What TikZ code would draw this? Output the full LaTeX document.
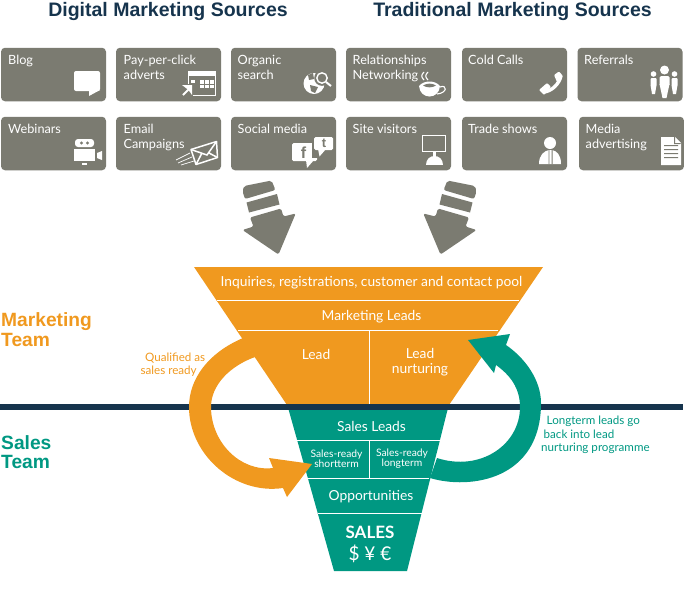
\documentclass[tikz,border=0pt]{standalone}
\usepackage{fontspec}
\setmainfont{Lato}
\newfontfamily\headfont{Liberation Sans}
\usepackage{tikz}
\usetikzlibrary{positioning}
\definecolor{srcgray}{HTML}{7B7B71}
\definecolor{funorange}{HTML}{F0991F}
\definecolor{funteal}{HTML}{009882}
\definecolor{navy}{HTML}{16344D}
\begin{document}
\begin{tikzpicture}[x=1pt,y=-1pt]
\tikzstyle{source}=[rectangle, rounded corners=4pt, fill=srcgray, minimum width=105pt, minimum height=53.5pt, inner sep=0pt]
\tikzstyle{srctext}=[anchor=north west, text=white, font=\fontsize{12.7}{14.5}\selectfont, align=left, inner sep=0pt]
\tikzstyle{head}=[font=\headfont\bfseries\fontsize{19.5}{22}\selectfont, text=navy, inner sep=0pt]
\tikzstyle{team}=[anchor=north west, font=\headfont\bfseries\fontsize{19.2}{19.6}\selectfont, align=left, inner sep=0pt]
\tikzstyle{funtext}=[text=white, align=center, inner sep=0pt, font=\fontsize{13.8}{15.5}\selectfont]
\tikzstyle{smalltext}=[text=white, align=center, inner sep=0pt, font=\fontsize{10.3}{9.8}\selectfont]
\tikzstyle{note}=[align=left, inner sep=0pt, font=\fontsize{11.6}{13.4}\selectfont]
\tikzstyle{divide}=[draw=white, line width=1pt]
\tikzstyle{icon}=[fill=white, draw=none]
\useasboundingbox (0,0) rectangle (684,611);
% headings
\node[head] (Digital) at (168,11) {Digital Marketing Sources};
\node[head] (Traditional) at (512.5,11) {Traditional Marketing Sources};
% source boxes
\node[source] (Blog) at (53.5,74.5) {};
\node[source] (Click) at (168.5,74.5) {};
\node[source] (Organic) at (283.5,74.5) {};
\node[source] (Relations) at (398.5,74.5) {};
\node[source] (Cold) at (514.5,74.5) {};
\node[source] (Referrals) at (630,74.5) {};
\node[source] (Webinars) at (53.5,143.5) {};
\node[source] (Email) at (168.5,143.5) {};
\node[source] (Social) at (283.5,143.5) {};
\node[source] (Site) at (398.5,143.5) {};
\node[source] (Trade) at (514.5,143.5) {};
\node[source] (Media) at (631.5,143.5) {};
\node[srctext] at (8,55.3) {Blog};
\node[srctext] at (123.5,55.3) {Pay-per-click\\adverts};
\node[srctext] at (237.5,55.3) {Organic\\search};
\node[srctext] at (352.5,55.3) {Relationships\\Networking};
\node[srctext] at (468,55.3) {Cold Calls};
\node[srctext] at (584,55.3) {Referrals};
\node[srctext] at (8,124.3) {Webinars};
\node[srctext] at (123.5,124.3) {Email\\Campaigns};
\node[srctext] at (237.5,124.3) {Social media};
\node[srctext] at (352.5,124.3) {Site visitors};
\node[srctext] at (468,124.3) {Trade shows};
\node[srctext] at (585.5,124.3) {Media\\advertising};
% icons, top row
\fill[icon,rounded corners=2pt] (74,71) rectangle (100,91);
\fill[icon] (89,90) -- (100,90) -- (89,96) -- cycle;
\draw[white,line width=.9pt] (188.5,71.5) rectangle (215.5,95);
\fill[icon] (188,71) rectangle (216,76);
\fill[icon] (191,79.5) rectangle (195,82.5);
\fill[icon] (200,80) rectangle (213.5,88);
\draw[srcgray,line width=.6pt] (204.5,80) -- (204.5,88) (209,80) -- (209,88) (200,84) -- (213.5,84);
\fill[srcgray] (180,84) rectangle (193,97);
\draw[white,line width=2pt] (183,95) -- (190,88);
\fill[icon] (182,85) -- (192,85) -- (192,95) -- (188.5,90) -- cycle;
\fill[icon] (314,83.5) circle (10.5pt);
\fill[srcgray] (310,85) -- (318,87) -- (315,93) -- (311,91) -- cycle;
\fill[srcgray] (308,75) -- (313,73) -- (314,79) -- (309,80) -- cycle;
\fill[srcgray] (322,78) circle (7.8pt);
\draw[white,line width=1.4pt] (322,78) circle (5.2pt);
\draw[white,line width=2pt] (326,82) -- (331,86);
\draw[white,line width=1.1pt] (424,72) .. controls (421,75) and (421,77) .. (424,80);
\draw[white,line width=1.1pt] (428,72) .. controls (425,75) and (425,77) .. (428,80);
\fill[icon] (419,86) .. controls (420,100) and (439,100) .. (440,86) -- cycle;
\fill[icon] (419,86) .. controls (424,80) and (435,80) .. (440,86) -- cycle;
\fill[srcgray] (423,85.5) .. controls (427,83) and (432,83) .. (436,85.5) .. controls (432,88) and (427,88) .. (423,85.5) -- cycle;
\draw[white,line width=1.1pt] (440,87) .. controls (447,84) and (448,93) .. (437,94);
\draw[white,line width=3.4pt] (544,92) .. controls (552,91) and (559,84) .. (561,76);
\fill[icon,rounded corners=1pt] (539,90) -- (547,83) -- (551,87) -- (544,95) -- cycle;
\fill[icon,rounded corners=1pt] (554,75) -- (559,71.5) -- (563,76) -- (557,82) -- cycle;
\fill[icon] (664.5,70) circle (4.5pt) (653.5,74) circle (2.8pt) (674.5,74) circle (2.8pt);
\fill[icon,rounded corners=1.5pt] (659.5,76) rectangle (669.5,86);
\fill[icon] (659.5,84) -- (669.5,84) -- (666.5,98) -- (662.5,98) -- cycle;
\fill[icon,rounded corners=1pt] (650.5,78) rectangle (656.5,86) (671.5,78) rectangle (677.5,86);
\fill[icon] (650.5,85) -- (656.5,85) -- (655,94) -- (652,94) -- cycle (671.5,85) -- (677.5,85) -- (676,94) -- (673,94) -- cycle;
% icons, bottom row
\fill[icon,rounded corners=3pt] (75,139) rectangle (94,147);
\fill[srcgray] (81.5,143) circle (1.7pt) (87.5,143) circle (1.7pt);
\fill[icon] (74,149) rectangle (95,161);
\fill[icon] (97,153) -- (102,151) -- (102,160) -- (97,158) -- cycle;
\fill[icon] (82,163) rectangle (87,164.5);
\draw[white,line width=1.5pt,line join=round] (191,149.5) -- (216.5,141.5) -- (217.5,157.5) -- (196,164.5) -- cycle;
\draw[white,line width=1.5pt] (191,149.5) -- (207,155) -- (216.5,141.5) (196,164.5) -- (202,153) (217.5,157.5) -- (209,153);
\draw[white,line width=.7pt] (190,153) -- (176,160) (192,157) -- (178,163) (194,161) -- (181,165);
\fill[icon,rounded corners=1.5pt] (292,143) rectangle (317,161);
\fill[icon] (306,160) -- (314,160) -- (307,168) -- cycle;
\fill[srcgray] (312,135.5) rectangle (335,158);
\fill[icon,rounded corners=1.5pt] (314,137) rectangle (333,150);
\fill[icon] (318,149) -- (326,149) -- (319.5,156.5) -- cycle;
\node[inner sep=0pt, text=srcgray, font=\headfont\bfseries\fontsize{16}{16}\selectfont] (FaceF) at (303.5,152.5) {f};
\node[inner sep=0pt, text=srcgray, font=\headfont\bfseries\fontsize{13}{13}\selectfont] (TweetT) at (324,143.5) {t};
\draw[white,line width=1pt] (422.5,135.5) rectangle (445.5,151.5);
\fill[icon] (433,152) rectangle (436,156);
\fill[icon] (426,165) .. controls (426,153) and (443,153) .. (443,165) -- cycle;
\fill[icon] (550,143) circle (6pt);
\fill[icon] (539,164) .. controls (539,155) and (544,151) .. (549,150) -- (552,150) .. controls (557,151) and (561,155) .. (561,164) -- cycle;
\fill[srcgray] (548.5,150) rectangle (549.3,164) (551.7,150) rectangle (552.5,164);
\fill[icon] (661,137) -- (675,137) -- (681,143) -- (681,165) -- (661,165) -- cycle;
\fill[srcgray] (664,145) rectangle (678,146) (664,149) rectangle (678,150) (664,153) rectangle (678,154) (664,157) rectangle (678,158);
\fill[srcgray] (675,137) -- (675,143) -- (681,143) -- (680,144) -- (674,144) -- (674,137) -- cycle;
% big arrows
\fill[srcgray,rounded corners=2pt] (242.5,191.5) -- (244,186) -- (271.5,180.5) -- (275.5,190) -- (245,199) -- cycle;
\fill[srcgray] (246.5,202.5) -- (277,194) -- (279.5,204.5) -- (249,212.5) -- cycle;
\fill[srcgray,rounded corners=1.5pt] (250,217.5) -- (281,208.5) -- (283.5,216.5) -- (295.7,213.5) -- (278.5,254.5) -- (242.5,230) -- (253.5,226.5) -- cycle;
\fill[srcgray,rounded corners=2pt] (476.5,191.5) -- (475,186) -- (447.5,180.5) -- (443.5,190) -- (474,199) -- cycle;
\fill[srcgray] (472.5,202.5) -- (442,194) -- (439.5,204.5) -- (470,212.5) -- cycle;
\fill[srcgray,rounded corners=1.5pt] (469,217.5) -- (438,208.5) -- (435.5,216.5) -- (423.3,213.5) -- (440.5,254.5) -- (476.5,230) -- (465.5,226.5) -- cycle;
% funnel
\fill[funorange] (194,267) -- (543,267) -- (449,405) -- (287,405) -- cycle;
\fill[funteal] (287,404) -- (449,404) -- (407,571) -- (334,571) -- cycle;
\draw[divide] (217,300) -- (519,300);
\draw[divide] (238,330) -- (498,330);
\draw[divide] (369,330) -- (369,405);
\draw[divide] (296,440) -- (441,440);
\draw[divide] (369,440) -- (369,478);
\draw[divide] (307,478) -- (429,478);
\draw[divide] (318,513) -- (422,513);
% divider line
\fill[navy] (0,404) rectangle (683,410);
% loop arrows
\fill[funorange] (243,338) .. controls (208,353) and (189,379) .. (189,407) .. controls (189,455) and (235,495) .. (283,488) -- (287,497) -- (312,464) -- (269,458) -- (273,468) .. controls (240,472) and (211,442) .. (211,407) .. controls (211,385) and (230,366) .. (255,357) -- cycle;
\fill[funteal] (430,478) .. controls (470,490) and (541,480) .. (541,403) .. controls (541,380) and (525,358) .. (506,345) -- (510,334) -- (468,340) -- (494,373) -- (496,365) .. controls (510,375) and (520,388) .. (520,407) .. controls (520,445) and (480,472) .. (437,458) -- cycle;
% funnel labels
\node[funtext] (Pool) at (371.5,283) {Inquiries, registrations, customer and contact pool};
\node[funtext] (Marketing) at (371.5,316.5) {Marketing Leads};
\node[funtext] (Lead) [] at (316,354.5) {Lead};
\node[funtext] (Nurture) at (420,362) {Lead\\nurturing};
\node[funtext] (SalesLeads) at (371.5,426) {Sales Leads};
\node[smalltext] (Short) at (336.5,458.5) {Sales-ready\\shortterm};
\node[smalltext] (Long) at (402,458.5) {Sales-ready\\longterm};
\node[funtext] (Opp) at (371,497) {Opportunities};
\node[text=white, align=center, inner sep=0pt, font=\fontsize{19}{22}\selectfont] (Sales) at (370,544.5) {{\bfseries\fontsize{17}{22}\selectfont SALES}\\\$ ¥ €};
% side labels
\node[team, text=funorange] (MarketingTeam) at (1,312.5) {Marketing\\Team};
\node[team, text=funteal] (SalesTeam) at (1,435) {Sales\\Team};
\node[note, text=funorange, anchor=west] (Qualified) at (140.5,365) {\hspace*{4.5pt}Qualified as\\sales ready};
\node[note, text=funteal, anchor=west] (Longterm) at (541,435) {\hspace*{5.5pt}Longterm leads go\\\hspace*{2.5pt}back into lead\\nurturing programme};
\end{tikzpicture}
\end{document}
